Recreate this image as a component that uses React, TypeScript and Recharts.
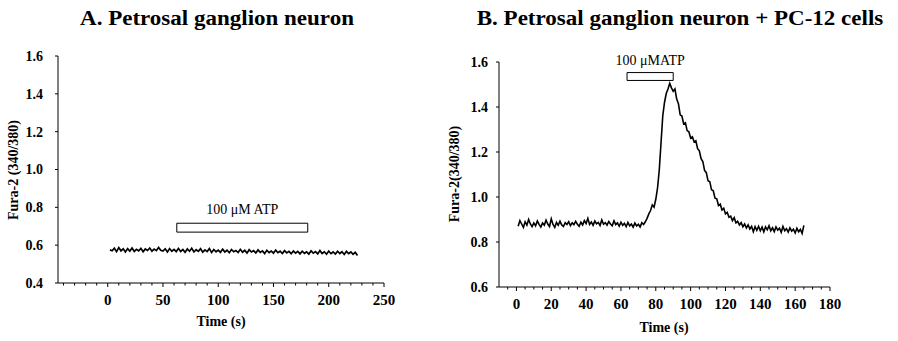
import React from 'react';
import { LineChart, Line, XAxis, YAxis, ReferenceArea, Label } from 'recharts';

// Panel A: petrosal ganglion neuron alone
const timeA = [
  2, 4, 6, 8, 10, 12, 14, 16, 18, 20, 22, 24, 26, 28, 30, 32, 34, 36, 38, 40,
  42, 44, 46, 48, 50, 52, 54, 56, 58, 60, 62, 64, 66, 68, 70, 72, 74, 76, 78, 80,
  82, 84, 86, 88, 90, 92, 94, 96, 98, 100, 102, 104, 106, 108, 110, 112, 114, 116, 118, 120,
  122, 124, 126, 128, 130, 132, 134, 136, 138, 140, 142, 144, 146, 148, 150, 152, 154, 156, 158, 160,
  162, 164, 166, 168, 170, 172, 174, 176, 178, 180, 182, 184, 186, 188, 190, 192, 194, 196, 198, 200,
  202, 204, 206, 208, 210, 212, 214, 216, 218, 220, 222, 224, 226,
];
const fura2A = [
  0.575, 0.570, 0.584, 0.566, 0.587, 0.570, 0.581, 0.564, 0.582, 0.569, 0.585, 0.567, 0.578, 0.570, 0.583, 0.565, 0.580, 0.572, 0.585, 0.568,
  0.579, 0.571, 0.588, 0.573, 0.569, 0.581, 0.564, 0.582, 0.568, 0.578, 0.566, 0.583, 0.567, 0.577, 0.562, 0.580, 0.568, 0.584, 0.564, 0.576,
  0.567, 0.581, 0.563, 0.575, 0.566, 0.582, 0.561, 0.577, 0.565, 0.574, 0.562, 0.579, 0.564, 0.573, 0.560, 0.577, 0.565, 0.572, 0.561, 0.578,
  0.563, 0.573, 0.558, 0.576, 0.564, 0.571, 0.559, 0.575, 0.562, 0.570, 0.556, 0.573, 0.561, 0.569, 0.558, 0.574, 0.560, 0.568, 0.556, 0.571,
  0.559, 0.567, 0.555, 0.569, 0.558, 0.567, 0.554, 0.568, 0.557, 0.565, 0.553, 0.570, 0.558, 0.566, 0.554, 0.572, 0.556, 0.565, 0.552, 0.569,
  0.555, 0.564, 0.553, 0.568, 0.556, 0.565, 0.551, 0.567, 0.555, 0.564, 0.552, 0.562, 0.545,
];

// Panel B: petrosal ganglion neuron + PC-12 cells
const timeB = [
  1, 2, 3, 4, 5, 6, 7, 8, 9, 10, 11, 12, 13, 14, 15, 16, 17, 18, 19, 20,
  21, 22, 23, 24, 25, 26, 27, 28, 29, 30, 31, 32, 33, 34, 35, 36, 37, 38, 39, 40,
  41, 42, 43, 44, 45, 46, 47, 48, 49, 50, 51, 52, 53, 54, 55, 56, 57, 58, 59, 60,
  61, 62, 63, 64, 65, 66, 67, 68, 69, 70, 71, 72, 73, 74, 75, 76, 77, 78, 79, 80,
  81, 82, 83, 84, 85, 86, 87, 88, 89, 90, 91, 92, 93, 94, 95, 96, 97, 98, 99, 100,
  101, 102, 103, 104, 105, 106, 107, 108, 109, 110, 111, 112, 113, 114, 115, 116, 117, 118, 119, 120,
  121, 122, 123, 124, 125, 126, 127, 128, 129, 130, 131, 132, 133, 134, 135, 136, 137, 138, 139, 140,
  141, 142, 143, 144, 145, 146, 147, 148, 149, 150, 151, 152, 153, 154, 155, 156, 157, 158, 159, 160,
  161, 162, 163, 164, 165,
];
const fura2B = [
  0.870, 0.895, 0.880, 0.865, 0.890, 0.875, 0.900, 0.880, 0.868, 0.885, 0.872, 0.893, 0.878, 0.866, 0.884, 0.875, 0.897, 0.880, 0.869, 0.903,
  0.878, 0.865, 0.887, 0.874, 0.892, 0.876, 0.869, 0.886, 0.878, 0.890, 0.873, 0.885, 0.877, 0.892, 0.879, 0.870, 0.888, 0.876, 0.895, 0.882,
  0.905, 0.878, 0.889, 0.874, 0.893, 0.881, 0.887, 0.873, 0.898, 0.879, 0.886, 0.875, 0.891, 0.880, 0.872, 0.894, 0.877, 0.885, 0.870, 0.888,
  0.874, 0.883, 0.868, 0.887, 0.872, 0.880, 0.866, 0.884, 0.871, 0.879, 0.867, 0.886, 0.878, 0.890, 0.905, 0.925, 0.940, 0.965, 0.955, 0.990,
  1.040, 1.120, 1.240, 1.360, 1.420, 1.460, 1.480, 1.505, 1.485, 1.470, 1.480, 1.435, 1.415, 1.365, 1.360, 1.325, 1.330, 1.295, 1.290, 1.262,
  1.268, 1.245, 1.250, 1.215, 1.205, 1.170, 1.158, 1.118, 1.108, 1.072, 1.068, 1.032, 1.028, 0.995, 0.992, 0.962, 0.968, 0.942, 0.950, 0.925,
  0.932, 0.910, 0.915, 0.895, 0.908, 0.885, 0.892, 0.876, 0.886, 0.868, 0.880, 0.862, 0.876, 0.858, 0.870, 0.846, 0.868, 0.852, 0.870, 0.850,
  0.866, 0.845, 0.867, 0.854, 0.872, 0.850, 0.863, 0.846, 0.867, 0.853, 0.861, 0.843, 0.869, 0.850, 0.859, 0.844, 0.863, 0.848, 0.857, 0.840,
  0.861, 0.846, 0.856, 0.838, 0.874,
];

// tick labels
const yTicksA = [0.4, 0.6, 0.8, 1.0, 1.2, 1.4, 1.6];
const yTicksB = [0.6, 0.8, 1.0, 1.2, 1.4, 1.6];
const xMajorA = [0, 50, 100, 150, 200, 250];
const xMinorA = [-40, -30, -20, -10, 0, 10, 20, 30, 40, 50, 60, 70, 80, 90, 100, 110, 120, 130, 140, 150, 160, 170, 180, 190, 200, 210, 220, 230, 240, 250];
const xMajorB = [0, 20, 40, 60, 80, 100, 120, 140, 160, 180];
const xMinorB = [
  -5, 0, 5, 10, 15, 20, 25, 30, 35, 40, 45, 50, 55, 60, 65, 70, 75, 80, 85, 90,
  95, 100, 105, 110, 115, 120, 125, 130, 135, 140, 145, 150, 155, 160, 165, 170, 175, 180,
];

// ATP application bars [start, end, low, high]
const atpA = [62.5, 181, 0.669, 0.716];
const atpB = [63.5, 90, 1.518, 1.553];

const dataA = timeA.map((t, i) => ({ t, v: fura2A[i] }));
const dataB = timeB.map((t, i) => ({ t, v: fura2B[i] }));

const FONT = '"Liberation Serif", "Times New Roman", serif';

const XTick = (props: any) => {
  const { x, y, payload, majors } = props;
  const major = majors.includes(payload.value);
  return (
    <g>
      <line x1={x} x2={x} y1={y} y2={y + (major ? 4 : 2.5)} stroke="#000" strokeWidth={1} />
      {major && (
        <text x={x} y={y + 22} textAnchor="middle" fontSize={15} fontWeight="bold" fontFamily={FONT} fill="#000">
          {payload.value}
        </text>
      )}
    </g>
  );
};

const yTickStyle = { fontSize: 14, fontWeight: 'bold', fontFamily: FONT, fill: '#000' };

const abs = (left: number, top: number): React.CSSProperties => ({ position: 'absolute', left, top });

const App = () => {
  return (
    <div style={{ position: 'absolute', left: 0, top: 0, width: 898, height: 341, background: '#fff', fontFamily: FONT, color: '#000', overflow: 'hidden' }}>
      <div style={{ ...abs(17, 7), width: 400, textAlign: 'center', fontSize: 20, fontWeight: 'bold', transform: 'scaleX(1.15)' }}>
        A. Petrosal ganglion neuron
      </div>
      <div style={{ ...abs(430, 7), width: 500, textAlign: 'center', fontSize: 20, fontWeight: 'bold', transform: 'scaleX(1.15)' }}>
        B. Petrosal ganglion neuron + PC-12 cells
      </div>

      <div style={{ ...abs(0, 0) }}>
        <LineChart width={420} height={341} data={dataA} margin={{ top: 56, right: 36, bottom: 0, left: 0 }}>
          <XAxis
            dataKey="t"
            type="number"
            domain={[-45, 250]}
            ticks={xMinorA}
            interval={0}
            height={58}
            stroke="#000"
            tickLine={false}
            tickSize={0}
            tickMargin={0}
            tick={(p: any) => <XTick {...p} majors={xMajorA} />}
          />
          <YAxis
            type="number"
            domain={[0.4, 1.6]}
            ticks={yTicksA}
            interval={0}
            width={58}
            stroke="#000"
            tickSize={3}
            tickMargin={12}
            tick={yTickStyle}
            tickFormatter={(v: number) => v.toFixed(1)}
          />
          <ReferenceArea x1={atpA[0]} x2={atpA[1]} y1={atpA[2]} y2={atpA[3]} fill="#fff" fillOpacity={1} stroke="#000" strokeWidth={1} ifOverflow="visible">
            <Label value="100 μM ATP" position="top" offset={9} style={{ fontSize: 14, fontFamily: FONT, fill: '#000' }} />
          </ReferenceArea>
          <Line dataKey="v" type="linear" stroke="#000" strokeWidth={1.7} dot={false} isAnimationActive={false} />
        </LineChart>
      </div>

      <div style={{ ...abs(440, 0) }}>
        <LineChart width={458} height={341} data={dataB} margin={{ top: 62, right: 68, bottom: 0, left: 0 }}>
          <XAxis
            dataKey="t"
            type="number"
            domain={[-10, 180]}
            ticks={xMinorB}
            interval={0}
            height={54}
            stroke="#000"
            tickLine={false}
            tickSize={0}
            tickMargin={0}
            tick={(p: any) => <XTick {...p} majors={xMajorB} />}
          />
          <YAxis
            type="number"
            domain={[0.6, 1.6]}
            ticks={yTicksB}
            interval={0}
            width={59}
            stroke="#000"
            tickSize={3}
            tickMargin={8}
            tick={yTickStyle}
            tickFormatter={(v: number) => v.toFixed(1)}
          />
          <ReferenceArea x1={atpB[0]} x2={atpB[1]} y1={atpB[2]} y2={atpB[3]} fill="#fff" fillOpacity={1} stroke="#000" strokeWidth={1} ifOverflow="visible">
            <Label value="100 μMATP" position="top" offset={8} style={{ fontSize: 14, fontFamily: FONT, fill: '#000' }} />
          </ReferenceArea>
          <Line dataKey="v" type="linear" stroke="#000" strokeWidth={1.6} dot={false} isAnimationActive={false} />
        </LineChart>
      </div>

      <div style={{ ...abs(14, 170), transform: 'translate(-50%, -50%) rotate(-90deg)', whiteSpace: 'nowrap', fontSize: 14, fontWeight: 'bold' }}>
        Fura-2 (340/380)
      </div>
      <div style={{ ...abs(455, 174), transform: 'translate(-50%, -50%) rotate(-90deg)', whiteSpace: 'nowrap', fontSize: 14, fontWeight: 'bold' }}>
        Fura-2(340/380)
      </div>
      <div style={{ ...abs(221, 322), transform: 'translate(-50%, -50%)', whiteSpace: 'nowrap', fontSize: 14, fontWeight: 'bold' }}>
        Time (s)
      </div>
      <div style={{ ...abs(664, 328), transform: 'translate(-50%, -50%)', whiteSpace: 'nowrap', fontSize: 14, fontWeight: 'bold' }}>
        Time (s)
      </div>
    </div>
  );
};

export default App;
